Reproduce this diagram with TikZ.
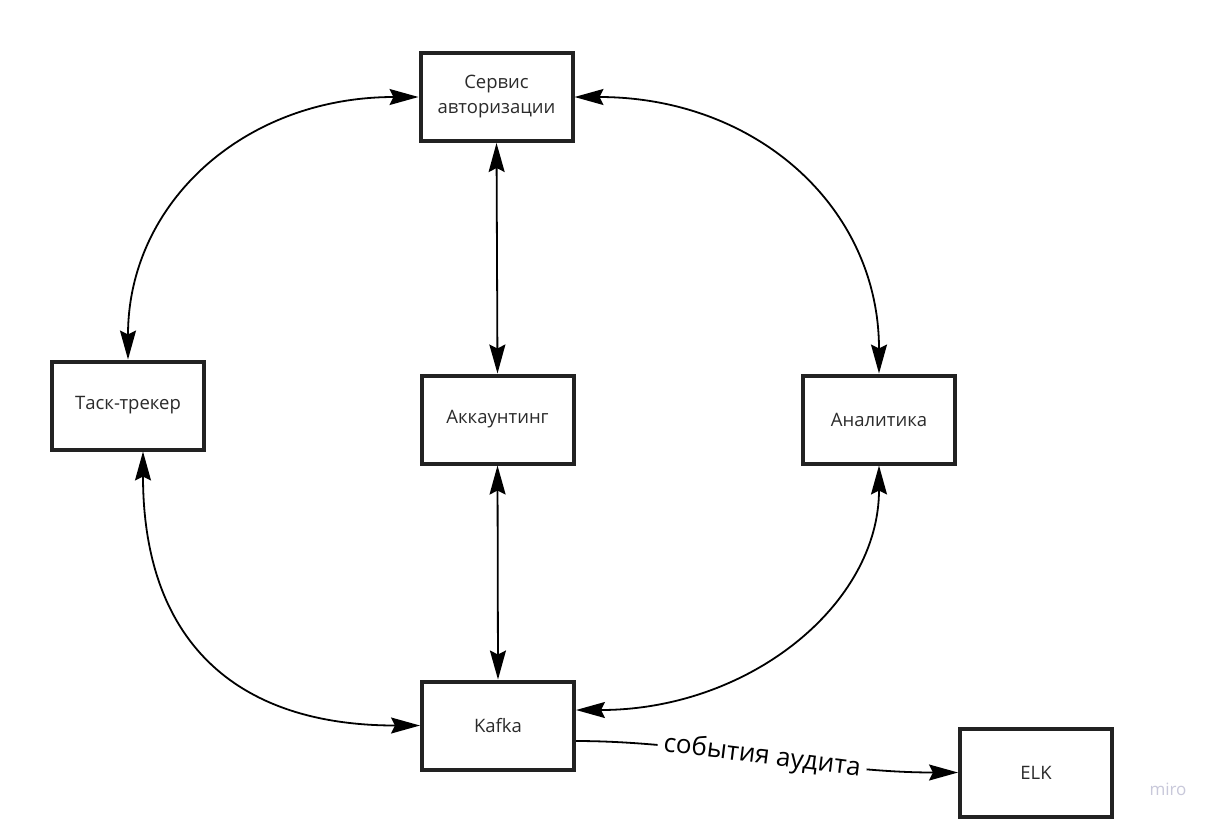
\documentclass[tikz,border=0pt]{standalone}
\usepackage{fontspec}
\setmainfont{Open Sans}
\usetikzlibrary{arrows.meta}
\definecolor{boxline}{HTML}{222222}
\definecolor{boxtext}{HTML}{2B2B2B}
\definecolor{mirocol}{HTML}{C8C8DA}
\begin{document}
\begin{tikzpicture}[x=1pt,y=-1pt,
  svcbox/.style={draw=boxline,line width=4pt,fill=white,minimum width=152pt,minimum height=88pt,
    inner sep=2pt,align=center,text=boxtext,font=\fontsize{18.5}{25}\selectfont},
  conn/.style={line width=1.8pt,draw=black},
  tipend/.style={-{Stealth[length=29pt,width=16pt,inset=4pt]}},
  tipboth/.style={{Stealth[length=29pt,width=16pt,inset=4pt]}-{Stealth[length=29pt,width=16pt,inset=4pt]}}
]
\useasboundingbox (0,0) rectangle (1214,823);
\fill[white] (0,0) rectangle (1214,823);

\node[svcbox] (auth)  at (496.5,97)   {Сервис\\авторизации};
\node[svcbox] (task)  at (128,405.5)  {Таск-трекер};
\node[svcbox] (acc)   at (497.5,419.5){Аккаунтинг};
\node[svcbox] (anal)  at (879,419.5)  {Аналитика};
\node[svcbox] (kafka) at (498,725.5)  {Kafka};
\node[svcbox] (elk)   at (1036,772.5) {ELK};

% curves
\draw[conn,tipboth] (auth.west) .. controls +(-174,0) and +(0,-157) .. (task.north);
\draw[conn,tipboth] (auth.east) .. controls +(182,0) and +(0,-166) .. (anal.north);
\draw[conn,tipboth] (auth.south) -- (acc.north);
\draw[conn,tipboth] (acc.south) -- (kafka.north);
\coordinate (tasks) at ([xshift=15pt]task.south);
\draw[conn,tipboth] (tasks) .. controls +(0,186) and +(-188,0) .. (kafka.west);
\coordinate (kafkaer) at ([yshift=15.5pt]kafka.east);
\draw[conn,tipboth] (anal.south) .. controls +(0,139) and +(173,0) .. (kafkaer);
\coordinate (kafkaeo) at ([yshift=-15.5pt]kafka.east);
\draw[conn,tipend] (kafkaeo) .. controls +(124,0) and +(-137,0) .. (elk.west)
  node[midway,sloped,fill=white,inner xsep=6pt,inner ysep=1pt,text=black,
       font=\fontsize{26}{30}\selectfont] (lbl) {события аудита};

\node[text=mirocol,font=\fontsize{17}{20}\selectfont] (miro) at (1168,789) {miro};
\end{tikzpicture}
\end{document}
